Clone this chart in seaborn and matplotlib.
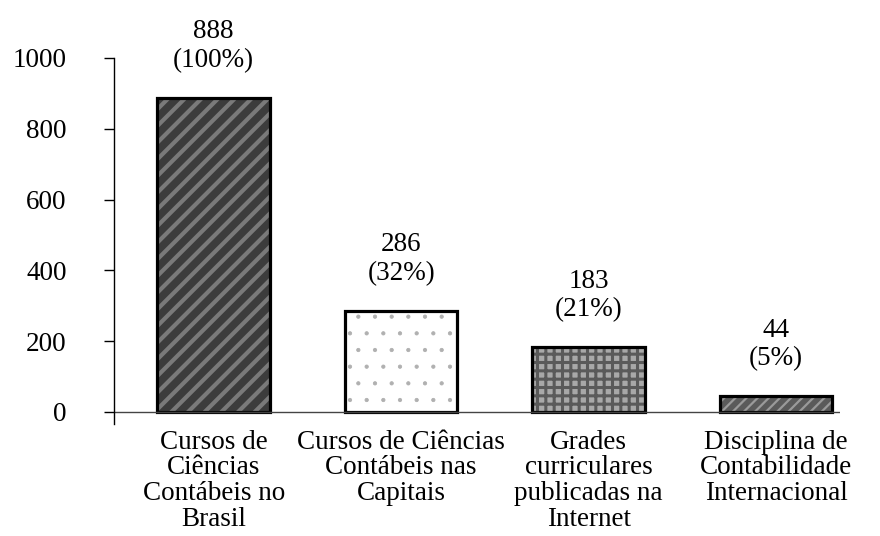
import matplotlib
matplotlib.use("Agg")
import matplotlib.pyplot as plt
import seaborn as sns
import pandas as pd

categories = [
    "Cursos de\nCiências\nContábeis no\nBrasil",
    "Cursos de Ciências\nContábeis nas\nCapitais",
    "Grades\ncurriculares\npublicadas na\nInternet",
    "Disciplina de\nContabilidade\nInternacional",
]
values = [888, 286, 183, 44]
percents = ["100%", "32%", "21%", "5%"]
yticks = [0, 200, 400, 600, 800, 1000]

face_colors = ["#3c3c3c", "#ffffff", "#a8a8a8", "#5a5a5a"]
hatch_colors = ["#7a7a7a", "#b0b0b0", "#5a5a5a", "#9a9a9a"]
hatches = ["//", ".", "++", "///"]
hatch_lws = [3.0, 0.6, 2.2, 1.6]

sns.set_theme(style="white")
plt.rcParams["font.family"] = ["Liberation Serif", "DejaVu Serif"]
plt.rcParams["hatch.linewidth"] = 2.0

df = pd.DataFrame({"cat": categories, "val": values})

fig = plt.figure(figsize=(8.8, 5.36), dpi=100)
ax = fig.add_axes([0.1295, 0.209, 0.825, 0.683])

sns.barplot(data=df, x="cat", y="val", hue="cat", palette=face_colors,
            width=0.6, legend=False, ax=ax, saturation=1)
for p, hc, h, hl in zip(ax.patches, hatch_colors, hatches, hatch_lws):
    p.set_hatch(h)
    p.set_edgecolor(hc)
    p.set_linewidth(0)
    if hasattr(p, "set_hatch_linewidth"):
        p.set_hatch_linewidth(hl)
    else:
        p._hatch_linewidth = hl

sns.barplot(data=df, x="cat", y="val", hue="cat",
            palette=["black"] * 4, fill=False, width=0.6, legend=False,
            ax=ax, linewidth=2.3)

for i, (v, pc) in enumerate(zip(values, percents)):
    ax.text(i, v + 70, f"{v}\n({pc})", ha="center", va="bottom",
            fontsize=19.5, linespacing=1.2, color="black")

ax.set_xlim(-0.532, 3.34)
ax.set_ylim(-34, 1000)
ax.axhline(0, color="#444444", lw=1.0)
ax.set_yticks(yticks)
ax.set_yticklabels([str(t) for t in yticks])
ax.set_xlabel("")
ax.set_ylabel("")

for s in ["top", "right", "bottom"]:
    ax.spines[s].set_visible(False)
ax.spines["left"].set_color("black")
ax.spines["left"].set_linewidth(1.0)

ax.tick_params(axis="y", left=True, direction="out", length=7, width=1,
               color="black", pad=27, labelsize=19.5, labelcolor="black")
ax.tick_params(axis="x", bottom=False, length=0, pad=4, labelsize=19.5,
               labelcolor="black")
for lbl in ax.get_xticklabels():
    lbl.set_linespacing(1.05)
    lbl.set_ha("center")

fig.savefig("out.png", dpi=100, facecolor="white")
